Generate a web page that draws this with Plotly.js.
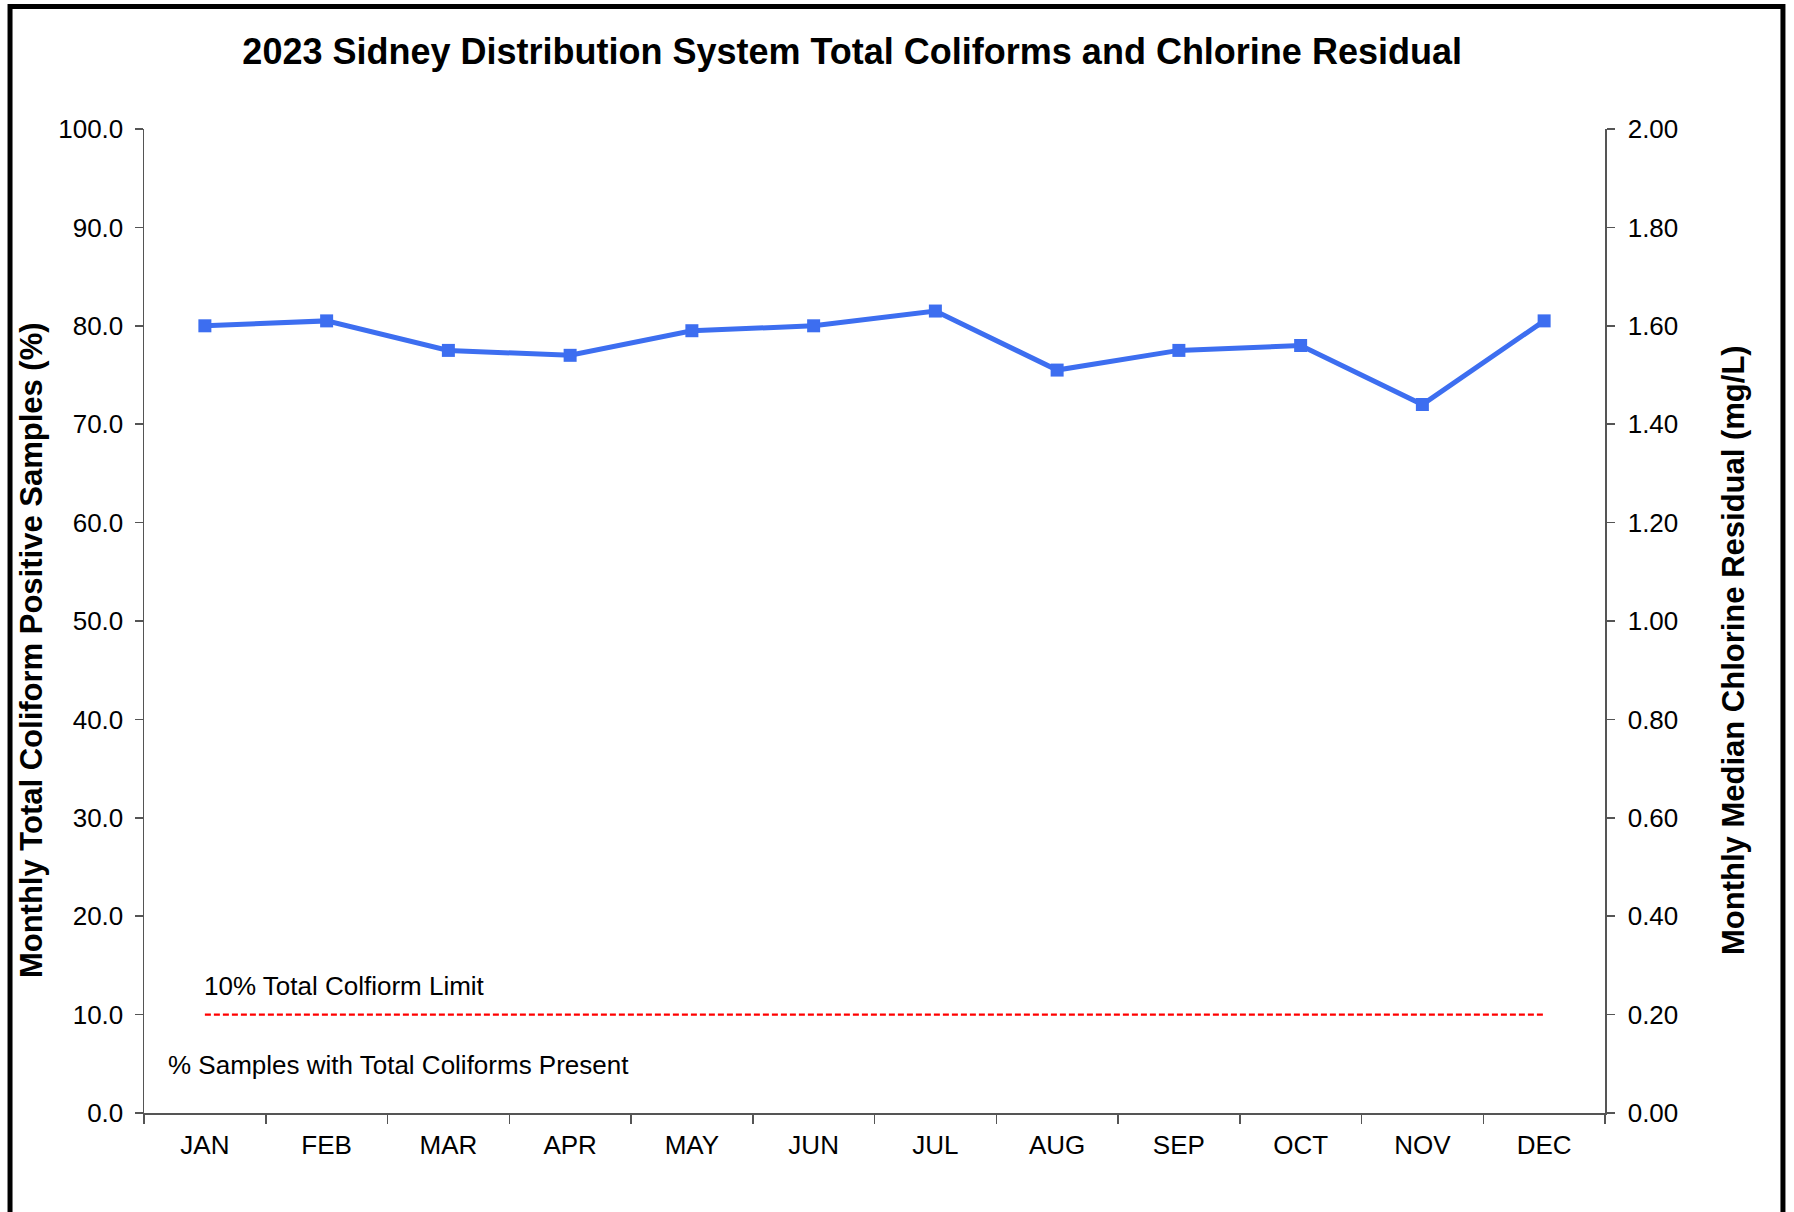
<!DOCTYPE html>
<html>
<head>
<meta charset="utf-8">
<script src="https://cdn.plot.ly/plotly-3.0.1.min.js"></script>
<style>html,body{margin:0;padding:0;background:#fff;}#chart{width:1794px;height:1212px;}</style>
</head>
<body>
<div id="chart"></div>
<script>
const months = ["JAN","FEB","MAR","APR","MAY","JUN","JUL","AUG","SEP","OCT","NOV","DEC"];
const chlorineResidual = [1.60, 1.61, 1.55, 1.54, 1.59, 1.60, 1.63, 1.51, 1.55, 1.56, 1.44, 1.61];
const coliformLimit = [10, 10, 10, 10, 10, 10, 10, 10, 10, 10, 10, 10];
const leftTicks = [0,10,20,30,40,50,60,70,80,90,100];
const rightTicks = [0,0.2,0.4,0.6,0.8,1.0,1.2,1.4,1.6,1.8,2.0];

const FONT = "Liberation Sans, Arial, sans-serif";

const traces = [
  {
    x: months, y: coliformLimit, yaxis: "y", type: "scatter", mode: "lines",
    name: "10% Total Colfiorm Limit",
    line: {color: "#ff0000", width: 2.2, dash: "6px,3px"},
    hoverinfo: "skip"
  },
  {
    x: months, y: chlorineResidual, yaxis: "y2", type: "scatter", mode: "lines+markers",
    name: "Chlorine Residual",
    line: {color: "#3d6ef0", width: 5},
    marker: {symbol: "square", size: 13, color: "#3d6ef0"}
  }
];

const axisLine = "#555555";
const layout = {
  width: 1794, height: 1212,
  margin: {l: 144, r: 189, t: 129, b: 99, pad: 0},
  paper_bgcolor: "#ffffff", plot_bgcolor: "#ffffff",
  showlegend: false,
  font: {family: FONT, color: "#000000", size: 26},
  title: {
    text: "2023 Sidney Distribution System Total Coliforms and Chlorine Residual",
    font: {family: FONT, size: 36, color: "#000000", weight: "bold"},
    xref: "container", x: 0.475, xanchor: "center",
    yref: "container", y: 0.958, yanchor: "middle"
  },
  xaxis: {
    type: "category", categoryorder: "array", categoryarray: months,
    range: [-0.5, 11.5], tickson: "boundaries",
    showline: true, linecolor: axisLine, linewidth: 1.5,
    ticks: "outside", ticklen: 9, tickcolor: axisLine, tickwidth: 1.5,
    showgrid: false, zeroline: false,
    tickfont: {family: FONT, size: 26, color: "#000"},
    ticklabelstandoff: 8,
    fixedrange: true, automargin: false
  },
  yaxis: {
    range: [0, 100], tickvals: leftTicks, tickformat: ".1f",
    showline: true, linecolor: axisLine, linewidth: 1.5,
    ticks: "outside", ticklen: 8, tickcolor: axisLine, tickwidth: 1.5,
    showgrid: false, zeroline: false,
    tickfont: {family: FONT, size: 26, color: "#000"},
    ticklabelstandoff: 6,
    automargin: false
  },
  yaxis2: {
    overlaying: "y", side: "right", range: [0, 2], tickvals: rightTicks, tickformat: ".2f",
    showline: true, linecolor: axisLine, linewidth: 1.5,
    ticks: "outside", ticklen: 8, tickcolor: axisLine, tickwidth: 1.5,
    showgrid: false, zeroline: false,
    tickfont: {family: FONT, size: 26, color: "#000"},
    ticklabelstandoff: 8,
    automargin: false
  },
  annotations: [
    {text: "<b>Monthly Total Coliform Positive Samples (%)</b>", xref: "paper", yref: "paper",
     x: -0.0773, y: 0.4705, xanchor: "center", yanchor: "middle", textangle: -90, showarrow: false,
     font: {family: FONT, size: 31, color: "#000"}},
    {text: "<b>Monthly Median Chlorine Residual (mg/L)</b>", xref: "paper", yref: "paper",
     x: 1.0876, y: 0.4705, xanchor: "center", yanchor: "middle", textangle: -90, showarrow: false,
     font: {family: FONT, size: 31, color: "#000"}},
    {text: "10% Total Colfiorm Limit", xref: "paper", yref: "y", x: 0.0395, y: 12.9,
     xanchor: "left", yanchor: "middle", showarrow: false,
     font: {family: FONT, size: 26, color: "#000"}},
    {text: "% Samples with Total Coliforms Present", xref: "paper", yref: "y", x: 0.015, y: 4.9,
     xanchor: "left", yanchor: "middle", showarrow: false,
     font: {family: FONT, size: 26, color: "#000"}}
  ],
  shapes: [
    {type: "rect", xref: "paper", yref: "paper", x0: -0.0917, x1: 1.1218, y0: -0.12, y1: 1.1245,
     line: {color: "#000000", width: 5}, fillcolor: "rgba(0,0,0,0)", layer: "above"}
  ]
};

Plotly.newPlot("chart", traces, layout, {displayModeBar: false, staticPlot: true});
</script>
</body>
</html>
